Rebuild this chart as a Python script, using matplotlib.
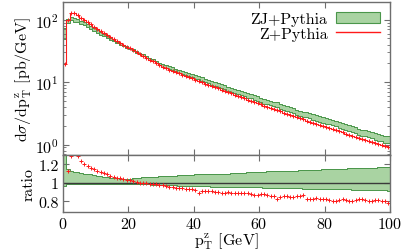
import numpy as np
import matplotlib
matplotlib.use("Agg")
import matplotlib.pyplot as plt
from matplotlib.patches import Patch
from matplotlib.lines import Line2D

# ---------------- DATA ----------------
# bins of 1 GeV from 0 to 100
pt_edges = np.arange(0, 101, 1)

# Z+Pythia, dsigma/dpT [pb/GeV] per bin
z_pythia = [19.5, 100, 128, 126, 118, 108, 99, 91, 84, 77,
            71, 65.5, 60.5, 56, 52, 48.5, 45, 42, 39.5, 37,
            34.8, 32.5, 30.3, 28.3, 26.4, 24.7, 23.0, 21.5, 20.1, 18.7,
            17.5, 16.7, 15.9, 15.2, 14.5, 13.8, 13.2, 12.6, 12.0, 11.45,
            10.9, 10.4, 9.95, 9.5, 9.08, 8.67, 8.28, 7.91, 7.56, 7.22,
            6.9, 6.6, 6.3, 6.03, 5.76, 5.5, 5.26, 5.03, 4.81, 4.6,
            4.4, 4.21, 4.03, 3.86, 3.7, 3.54, 3.39, 3.24, 3.1, 2.97,
            2.85, 2.74, 2.63, 2.52, 2.42, 2.33, 2.23, 2.15, 2.06, 1.98,
            1.9, 1.83, 1.76, 1.69, 1.62, 1.56, 1.5, 1.44, 1.39, 1.33,
            1.28, 1.23, 1.19, 1.14, 1.1, 1.06, 1.02, 0.98, 0.94, 0.9]

# Z+Pythia / ZJ+Pythia (central)
ratio_z = [0.39, 1.13, 1.29, 1.34, 1.29, 1.24, 1.20, 1.18, 1.16, 1.15,
           1.13, 1.12, 1.11, 1.09, 1.075, 1.065, 1.055, 1.048, 1.038, 1.032,
           1.028, 1.018, 1.012, 1.003, 1.0, 0.995, 0.99, 0.985, 0.982, 0.978,
           0.975, 0.968, 0.958, 0.952, 0.948, 0.944, 0.94, 0.937, 0.934, 0.93,
           0.925, 0.895, 0.91, 0.912, 0.908, 0.91, 0.905, 0.898, 0.89, 0.895,
           0.90, 0.893, 0.89, 0.888, 0.892, 0.89, 0.886, 0.875, 0.87, 0.872,
           0.878, 0.88, 0.872, 0.86, 0.855, 0.823, 0.848, 0.86, 0.855, 0.852,
           0.85, 0.855, 0.86, 0.865, 0.83, 0.828, 0.83, 0.832, 0.83, 0.826,
           0.822, 0.81, 0.805, 0.808, 0.815, 0.82, 0.815, 0.805, 0.80, 0.81,
           0.825, 0.83, 0.815, 0.80, 0.80, 0.81, 0.812, 0.80, 0.805, 0.78]

# ZJ+Pythia scale band relative to central
band_hi = [1.45, 1.15, 1.13, 1.12, 1.115, 1.11, 1.10, 1.095, 1.09, 1.08,
           1.076, 1.07, 1.065, 1.06, 1.055, 1.05, 1.048, 1.046, 1.045, 1.045,
           1.045, 1.048, 1.05, 1.055, 1.06, 1.06, 1.062, 1.065, 1.067, 1.068,
           1.07, 1.072, 1.074, 1.076, 1.078, 1.08, 1.082, 1.084, 1.086, 1.088,
           1.09, 1.091, 1.092, 1.093, 1.094, 1.095, 1.096, 1.097, 1.098, 1.099,
           1.10, 1.102, 1.104, 1.106, 1.108, 1.11, 1.112, 1.114, 1.116, 1.118,
           1.12, 1.121, 1.122, 1.123, 1.124, 1.125, 1.126, 1.127, 1.128, 1.129,
           1.13, 1.132, 1.133, 1.135, 1.136, 1.138, 1.139, 1.141, 1.142, 1.144,
           1.145, 1.147, 1.148, 1.150, 1.151, 1.153, 1.154, 1.156, 1.157, 1.159,
           1.16, 1.161, 1.162, 1.163, 1.164, 1.165, 1.166, 1.167, 1.168, 1.17]
band_lo = [0.97, 0.99, 0.99, 0.99, 0.99, 0.99, 0.99, 0.99, 0.99, 0.99,
           0.99, 0.99, 0.99, 0.99, 0.99, 0.99, 0.99, 0.99, 0.99, 0.99,
           0.99, 0.989, 0.988, 0.987, 0.986, 0.985, 0.983, 0.981, 0.979, 0.977,
           0.975, 0.974, 0.973, 0.972, 0.971, 0.970, 0.969, 0.968, 0.967, 0.966,
           0.965, 0.964, 0.963, 0.962, 0.961, 0.960, 0.959, 0.958, 0.957, 0.956,
           0.955, 0.9545, 0.954, 0.9535, 0.953, 0.9525, 0.952, 0.9515, 0.951, 0.9505,
           0.95, 0.949, 0.948, 0.947, 0.946, 0.945, 0.944, 0.943, 0.942, 0.941,
           0.94, 0.9395, 0.939, 0.9385, 0.938, 0.9375, 0.937, 0.9365, 0.936, 0.9355,
           0.935, 0.934, 0.933, 0.932, 0.931, 0.930, 0.929, 0.928, 0.927, 0.926,
           0.925, 0.924, 0.923, 0.922, 0.921, 0.920, 0.919, 0.918, 0.917, 0.915]

# ---------------- STYLE ----------------
plt.rcParams["font.family"] = "serif"
plt.rcParams["font.serif"] = ["cmr10"]
plt.rcParams["mathtext.fontset"] = "cm"
plt.rcParams["axes.formatter.use_mathtext"] = True
plt.rcParams["font.size"] = 11.5

GREEN_FILL = "#a9d3a2"
GREEN_EDGE = "#4a964a"
RED = "#ff1a1a"
FRAME = "#6e6e6e"

z = np.array(z_pythia)
r = np.array(ratio_z)
hi = np.array(band_hi)
lo = np.array(band_lo)
centers = 0.5 * (pt_edges[:-1] + pt_edges[1:])
zj_central = z / r


def ext(a):
    return np.append(a, a[-1])


def style_axes(ax):
    for s in ax.spines.values():
        s.set_color(FRAME)
        s.set_linewidth(1.0)
    ax.tick_params(which="both", direction="in", top=True, right=True,
                   color=FRAME, pad=3)
    ax.tick_params(which="major", length=4)
    ax.tick_params(which="minor", length=2)


fig = plt.figure(figsize=(4.07, 2.51), dpi=100)
ax = fig.add_axes([0.1548, 0.3785, 0.8032, 0.6095])
axr = fig.add_axes([0.1548, 0.1514, 0.8032, 0.2271])

# ---------------- MAIN PANEL ----------------
ax.fill_between(pt_edges, ext(zj_central * lo), ext(zj_central * hi), step="post",
                color=GREEN_FILL, lw=0)
ax.step(pt_edges, ext(zj_central * lo), where="post", color=GREEN_EDGE, lw=0.7)
ax.step(pt_edges, ext(zj_central * hi), where="post", color=GREEN_EDGE, lw=0.7)
ax.step(pt_edges, ext(z), where="post", color=RED, lw=0.8)
ax.plot(centers, z, "+", color=RED, ms=3, mew=0.7)
ax.set_yscale("log")
ax.set_xlim(0, 100)
ax.set_ylim(0.68, 192)
ax.set_xticks([0, 20, 40, 60, 80, 100])
ax.tick_params(labelbottom=False)
ax.set_ylabel(r"d$\sigma$/dp$_{\rm T}^{\rm z}$ [pb/GeV]", labelpad=1)
style_axes(ax)

handles = [Patch(facecolor=GREEN_FILL, edgecolor=GREEN_EDGE, lw=0.8),
           Line2D([], [], color=RED, lw=1.0)]
ax.legend(handles, ["ZJ+Pythia", "Z+Pythia"], loc="upper right",
          markerfirst=False, frameon=False, fontsize=11.5, handlelength=2.8,
          handletextpad=0.5, labelspacing=0.05, borderaxespad=0.2)

# ---------------- RATIO PANEL ----------------
axr.fill_between(pt_edges, ext(lo), ext(hi), step="post", color=GREEN_FILL, lw=0)
axr.step(pt_edges, ext(lo), where="post", color=GREEN_EDGE, lw=0.7)
axr.step(pt_edges, ext(hi), where="post", color=GREEN_EDGE, lw=0.7)
axr.axhline(1.0, color="#3a3a3a", lw=1.0)
axr.plot(centers, r, "+", color=RED, ms=3, mew=0.7)
axr.set_xlim(0, 100)
axr.set_ylim(0.685, 1.30)
axr.set_yticks([0.8, 1.0, 1.2])
axr.set_yticklabels(["0.8", "1", "1.2"])
axr.set_xticks([0, 20, 40, 60, 80, 100])
axr.set_ylabel("ratio", labelpad=2)
axr.set_xlabel(r"p$_{\rm T}^{\rm z}$ [GeV]", labelpad=0)
style_axes(axr)

fig.align_ylabels([ax, axr])
fig.savefig("out.png", dpi=100)
